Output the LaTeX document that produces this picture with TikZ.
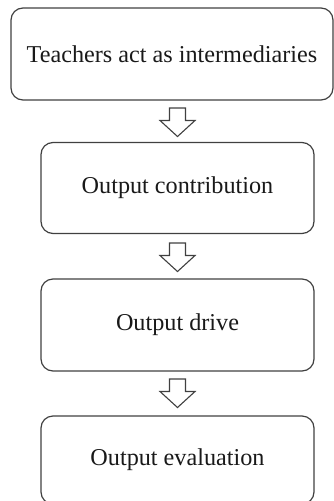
\documentclass[tikz,border=0pt]{standalone}
\usepackage{fontspec}
\setmainfont{Liberation Serif}
\begin{document}
\begin{tikzpicture}[x=1pt,y=-1pt,
  stage/.style={draw=black!75, line width=1.2pt, rounded corners=12pt,
    inner sep=0pt, font=\fontsize{24.2}{28}\selectfont, text=black!90},
  pics/downarrow/.style={code={
    \draw[draw=black!75, line width=1.1pt, fill=white, line join=miter]
      (-8,0) -- (8,0) -- (8,12.5) -- (17.5,12.5) -- (0,28.5)
      -- (-17.5,12.5) -- (-8,12.5) -- cycle;}}]
  \useasboundingbox (0,0) rectangle (334,501);

  % stages of the output process
  \node[stage, minimum width=322pt, minimum height=92pt] (b1) at (172,54)
    {Teachers act as intermediaries};
  \node[stage, minimum width=273pt, minimum height=91pt] (b2) at (177.5,188)
    {Output contribution};
  \node[stage, minimum width=273pt, minimum height=92pt] (b3) at (177.5,325)
    {Output drive};
  \node[stage, minimum width=273pt, minimum height=88pt] (b4) at (177.5,460)
    {Output evaluation};

  % hollow block arrows between the stages
  \coordinate (a1) at (177.5,108);
  \coordinate (a2) at (177.5,243);
  \coordinate (a3) at (177.5,379);
  \pic at (a1) {downarrow};
  \pic at (a2) {downarrow};
  \pic at (a3) {downarrow};
\end{tikzpicture}
\end{document}
